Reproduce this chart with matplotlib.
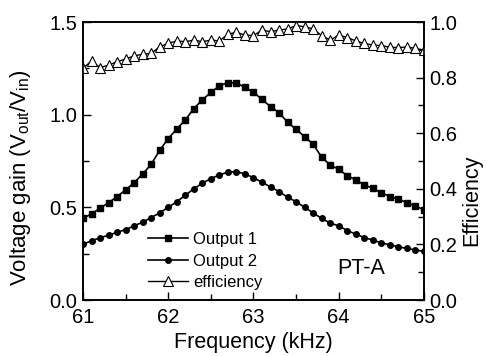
import numpy as np
import matplotlib.pyplot as plt
from matplotlib.ticker import MultipleLocator

plt.rcParams['font.family'] = ['Liberation Sans', 'DejaVu Sans']
plt.rcParams['mathtext.fontset'] = 'custom'
plt.rcParams['mathtext.rm'] = 'Liberation Sans'
plt.rcParams['mathtext.it'] = 'Liberation Sans'

# frequency points (kHz), 0.1 kHz step
freq = [61.0, 61.1, 61.2, 61.3, 61.4, 61.5, 61.6, 61.7, 61.8, 61.9,
        62.0, 62.1, 62.2, 62.3, 62.4, 62.5, 62.6, 62.7, 62.8, 62.9,
        63.0, 63.1, 63.2, 63.3, 63.4, 63.5, 63.6, 63.7, 63.8, 63.9,
        64.0, 64.1, 64.2, 64.3, 64.4, 64.5, 64.6, 64.7, 64.8, 64.9, 65.0]

output1 = [0.44, 0.465, 0.495, 0.525, 0.558, 0.594, 0.633, 0.68, 0.732, 0.808,
           0.871, 0.923, 0.971, 1.033, 1.08, 1.12, 1.156, 1.173, 1.17, 1.148,
           1.12, 1.083, 1.043, 1.011, 0.959, 0.921, 0.881, 0.841, 0.77, 0.729,
           0.705, 0.671, 0.648, 0.621, 0.603, 0.579, 0.558, 0.544, 0.525, 0.507, 0.486]

output2 = [0.30, 0.32, 0.335, 0.35, 0.365, 0.38, 0.40, 0.42, 0.445, 0.47,
           0.50, 0.53, 0.565, 0.60, 0.63, 0.655, 0.675, 0.69, 0.693, 0.68,
           0.66, 0.635, 0.61, 0.585, 0.555, 0.53, 0.50, 0.47, 0.44, 0.415,
           0.40, 0.375, 0.355, 0.337, 0.323, 0.308, 0.298, 0.287, 0.278, 0.27, 0.262]

efficiency = [0.833, 0.86, 0.836, 0.845, 0.857, 0.867, 0.878, 0.884, 0.887, 0.911,
              0.923, 0.932, 0.929, 0.935, 0.929, 0.935, 0.932, 0.956, 0.963, 0.953,
              0.951, 0.971, 0.965, 0.971, 0.975, 0.987, 0.983, 0.975, 0.951, 0.935,
              0.953, 0.944, 0.932, 0.923, 0.917, 0.915, 0.909, 0.908, 0.91, 0.905, 0.899]

fig = plt.figure(figsize=(4.87, 3.56), dpi=100)
ax = fig.add_axes([0.1704, 0.1573, 0.7002, 0.7809])
ax2 = ax.twinx()

l1, = ax.plot(freq, output1, '-s', color='black', lw=1.2, ms=3.8, label='Output 1')
l2, = ax.plot(freq, output2, '-o', color='black', lw=1.2, ms=4.0, label='Output 2')
l3, = ax2.plot(freq, efficiency, '-^', color='black', lw=1.0, ms=6.5,
               mfc='white', mew=0.8, label='efficiency')

ax.set_xlim(61, 65)
ax.set_ylim(0, 1.5)
ax2.set_ylim(0, 1.0)

ax.xaxis.set_major_locator(MultipleLocator(1))
ax.xaxis.set_minor_locator(MultipleLocator(0.5))
ax.yaxis.set_major_locator(MultipleLocator(0.5))
ax.yaxis.set_minor_locator(MultipleLocator(0.25))
ax2.yaxis.set_major_locator(MultipleLocator(0.2))
ax2.yaxis.set_minor_locator(MultipleLocator(0.1))

ax.tick_params(axis='both', which='both', direction='in', labelsize=14.5, top=False, right=False)
ax.tick_params(which='major', length=6, width=1)
ax.tick_params(which='minor', length=4, width=1)
ax.tick_params(axis='x', which='both', pad=6)
ax.tick_params(axis='y', which='both', pad=4)
ax2.tick_params(axis='y', which='both', direction='in', labelsize=14.5, pad=4)
ax2.tick_params(which='major', length=6, width=1)
ax2.tick_params(which='minor', length=4, width=1)
ax.yaxis.set_major_formatter(plt.FormatStrFormatter('%.1f'))
ax2.yaxis.set_major_formatter(plt.FormatStrFormatter('%.1f'))

for a in (ax, ax2):
    for s in a.spines.values():
        s.set_linewidth(1.2)

ax.set_xlabel('Frequency (kHz)', fontsize=15.5, labelpad=3)
ax.set_ylabel(r'Voltage gain (V$_{\mathrm{out}}$/V$_{\mathrm{in}}$)', fontsize=16)
ax.yaxis.set_label_coords(-0.148, 0.44)
ax2.set_ylabel('Efficiency', fontsize=15.5)
ax2.yaxis.set_label_coords(1.11, 0.36)

ax.text(63.98, 0.17, 'PT-A', fontsize=15.5, va='center', ha='left')

ax.legend([l1, l2, l3], ['Output 1', 'Output 2', 'efficiency'],
          loc='upper left', bbox_to_anchor=(0.19, 0.245), frameon=False,
          fontsize=12, handlelength=2.4, handletextpad=0.3, labelspacing=0.4,
          borderpad=0, borderaxespad=0)

fig.savefig('out.png', dpi=100)
